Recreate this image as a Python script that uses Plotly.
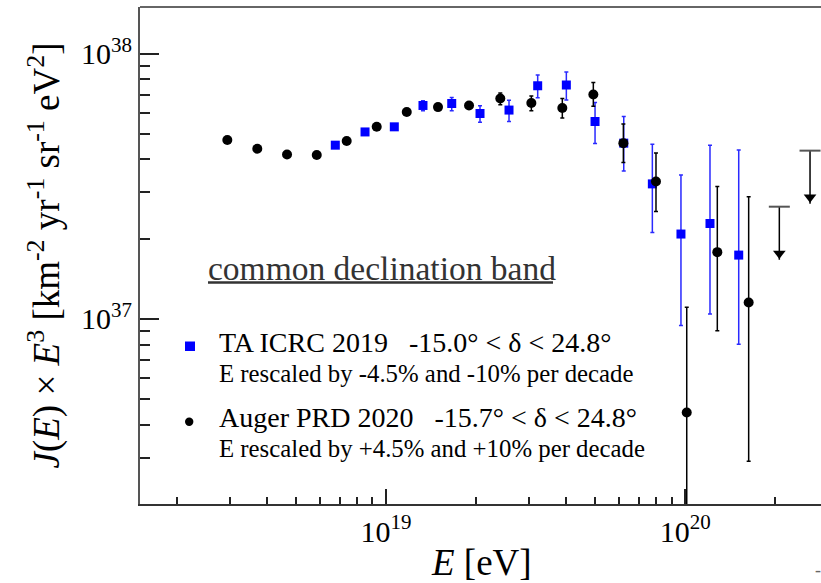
import plotly.graph_objects as go

# ---------------- data ----------------
# Auger PRD 2020 (black circles)
auger_E = [2.95e18, 3.715e18, 4.67e18, 5.87e18, 7.39e18, 9.31e18, 1.173e19, 1.492e19,
           1.894e19, 2.409e19, 3.059e19, 3.882e19, 4.928e19, 6.209e19, 7.98e19,
           1.011e20, 1.279e20, 1.628e20]
auger_J = [4.73e37, 4.38e37, 4.17e37, 4.15e37, 4.69e37, 5.30e37, 6.03e37, 6.29e37,
           6.38e37, 6.78e37, 6.52e37, 6.24e37, 7.02e37, 4.60e37, 3.30e37,
           4.44e36, 1.786e37, 1.153e37]
auger_J_hi = [4.76e37, 4.41e37, 4.20e37, 4.18e37, 4.73e37, 5.35e37, 6.09e37, 6.36e37,
              6.46e37, 7.11e37, 6.92e37, 6.78e37, 7.79e37, 5.43e37, 4.22e37,
              1.106e37, 3.16e37, 2.89e37]
auger_J_lo = [4.70e37, 4.35e37, 4.14e37, 4.12e37, 4.65e37, 5.25e37, 5.97e37, 6.22e37,
              6.30e37, 6.42e37, 6.10e37, 5.72e37, 6.33e37, 3.89e37, 2.54e37,
              1e35, 9.02e36, 2.91e36]

# Auger upper limits
ul_E = [2.061e20, 2.61e20]
ul_J = [2.65e37, 4.31e37]

# TA ICRC 2019 (blue squares)
ta_E = [6.77e18, 8.51e18, 1.066e19, 1.329e19, 1.658e19, 2.061e19, 2.576e19, 3.212e19,
        4.004e19, 4.993e19, 6.227e19, 7.76e19, 9.67e19, 1.209e20, 1.508e20]
ta_J = [4.52e37, 5.07e37, 5.30e37, 6.38e37, 6.49e37, 5.95e37, 6.13e37, 7.57e37,
        7.62e37, 5.55e37, 4.60e37, 3.23e37, 2.09e37, 2.29e37, 1.741e37]
ta_J_hi = [4.56e37, 5.12e37, 5.36e37, 6.65e37, 6.84e37, 6.37e37, 6.67e37, 8.31e37,
           8.53e37, 6.55e37, 5.80e37, 4.56e37, 3.49e37, 4.52e37, 4.33e37]
ta_J_lo = [4.48e37, 5.02e37, 5.24e37, 6.10e37, 6.10e37, 5.51e37, 5.55e37, 6.82e37,
           6.69e37, 4.59e37, 3.61e37, 2.12e37, 9.44e36, 1.045e37, 8.03e36]

x_tick_vals = [1e19, 1e20]
x_tick_text = ["10<sup>19</sup>", "10<sup>20</sup>"]
y_tick_vals = [1e37, 1e38]
y_tick_text = ["10<sup>37</sup>", "10<sup>38</sup>"]
x_minor = [float(m) * 10.0 ** e for e in (18, 19) for m in range(2, 10)] + [2e20]
y_minor = [float(m) * 10.0 ** e for e in (36, 37) for m in range(2, 10)]

X_RANGE = [18.1781, 20.4533]
Y_RANGE = [36.3025, 38.176]

# ---------------- layout helpers ----------------
W, H = 821, 583
L, R, T, B = 140, 0, 7, 79
PW, PH = W - L - R, H - T - B


def xp(px):
    return (px - L) / PW


def yp(py):
    return (H - B - py) / PH


FONT = "Liberation Serif"
BLUE = "#0000ff"

fig = go.Figure()

# TA
fig.add_trace(go.Scatter(
    x=ta_E, y=ta_J, mode="markers",
    marker=dict(symbol="square", size=9, color=BLUE, line=dict(width=0)),
    error_y=dict(type="data", symmetric=False,
                 array=[h - v for h, v in zip(ta_J_hi, ta_J)],
                 arrayminus=[v - l for v, l in zip(ta_J, ta_J_lo)],
                 color="#2a2aff", thickness=1.5, width=2),
    showlegend=False, cliponaxis=True))

# Auger
fig.add_trace(go.Scatter(
    x=auger_E, y=auger_J, mode="markers",
    marker=dict(symbol="circle", size=10, color="black", line=dict(width=0)),
    error_y=dict(type="data", symmetric=False,
                 array=[h - v for h, v in zip(auger_J_hi, auger_J)],
                 arrayminus=[v - l for v, l in zip(auger_J, auger_J_lo)],
                 color="black", thickness=1.5, width=2),
    showlegend=False, cliponaxis=True))

# upper limits: vertical line down to arrow tip
ARROW = 10 ** -0.2
ul_tip = [v * ARROW for v in ul_J]
fig.add_trace(go.Scatter(
    x=ul_E, y=ul_J, mode="markers",
    marker=dict(symbol="line-ew", size=15, color="#555555",
                line=dict(width=2, color="#555555")),
    error_y=dict(type="data", symmetric=False, array=[0, 0],
                 arrayminus=[v - t for v, t in zip(ul_J, ul_tip)],
                 color="black", thickness=1.5, width=0),
    showlegend=False))
fig.add_trace(go.Scatter(
    x=ul_E, y=[t * 10 ** 0.024 for t in ul_tip], mode="markers",
    marker=dict(symbol="triangle-down", size=11, color="black", line=dict(width=0)),
    showlegend=False))

axis_common = dict(type="log", showgrid=False, zeroline=False, ticks="inside",
                   tickcolor="#222222", tickwidth=1.5,
                   tickfont=dict(family=FONT, size=30, color="black"),
                   tickmode="array", showline=True, linewidth=2)

fig.update_xaxes(range=X_RANGE, tickvals=x_tick_vals, ticktext=x_tick_text,
                 ticklen=15, linecolor="#333333", mirror=False,
                 minor=dict(tickmode="array", tickvals=x_minor, ticks="inside",
                            ticklen=7, tickcolor="#222222", tickwidth=1.5),
                 **axis_common)
fig.update_yaxes(range=Y_RANGE, tickvals=y_tick_vals, ticktext=y_tick_text,
                 ticklen=19, linecolor="#555555", mirror=False,
                 minor=dict(tickmode="array", tickvals=y_minor, ticks="inside",
                            ticklen=10, tickcolor="#222222", tickwidth=1.5),
                 **axis_common)

shapes = [
    # top frame line
    dict(type="line", xref="paper", yref="paper", x0=0, x1=1, y0=1, y1=1,
         line=dict(color="#666666", width=2)),
    # underline of the heading
    dict(type="line", xref="paper", yref="paper", x0=xp(208), x1=xp(553),
         y0=yp(282.5), y1=yp(282.5), line=dict(color="#333333", width=2.5)),
    # legend keys
    dict(type="rect", xref="paper", yref="paper", x0=xp(185), x1=xp(195),
         y0=yp(351), y1=yp(341.5), fillcolor=BLUE, line=dict(width=0)),
    dict(type="circle", xref="paper", yref="paper", x0=xp(185), x1=xp(193.4),
         y0=yp(426), y1=yp(417.6), fillcolor="black", line=dict(width=0)),
]

NB = "\u00a0"
ann = [
    dict(text="common declination band", x=xp(206), y=yp(268.5), size=33.5, color="#333333"),
    dict(text=f"TA ICRC 2019{NB*3}-15.0° < δ < 24.8°", x=xp(217), y=yp(342.5), size=28, color="black"),
    dict(text="E rescaled by -4.5% and -10% per decade", x=xp(217), y=yp(373.5), size=24.8, color="black"),
    dict(text=f"Auger PRD 2020{NB*3}-15.7° < δ < 24.8°", x=xp(217), y=yp(417.5), size=28, color="black"),
    dict(text="E rescaled by +4.5% and +10% per decade", x=xp(217), y=yp(448.5), size=24.8, color="black"),
]
annotations = []
for a in ann:
    annotations.append(dict(text=a["text"], x=a["x"], y=a["y"], xref="paper", yref="paper",
                            xanchor="left", yanchor="middle", showarrow=False,
                            font=dict(family=FONT, size=a["size"], color=a["color"])))

annotations.append(dict(
    text="<i>J</i>(<i>E</i>) × <i>E</i><sup>3</sup> [km<sup>-2</sup> yr<sup>-1</sup> sr<sup>-1</sup> eV<sup>2</sup>]",
    x=xp(44), y=yp(255.5), xref="paper", yref="paper", xanchor="center", yanchor="middle",
    textangle=-90, showarrow=False, font=dict(family=FONT, size=37, color="black")))
annotations.append(dict(
    text="<i>E</i> [eV]", x=xp(481.5), y=yp(562), xref="paper", yref="paper",
    xanchor="center", yanchor="middle", showarrow=False,
    font=dict(family=FONT, size=37, color="black")))
annotations.append(dict(
    text="-", x=xp(818), y=yp(570), xref="paper", yref="paper",
    xanchor="center", yanchor="middle", showarrow=False,
    font=dict(family=FONT, size=18, color="#666666")))

fig.update_layout(width=W, height=H, margin=dict(l=L, r=R, t=T, b=B, pad=0),
                  paper_bgcolor="white", plot_bgcolor="white",
                  shapes=shapes, annotations=annotations, showlegend=False)

fig.write_html("out.html")
